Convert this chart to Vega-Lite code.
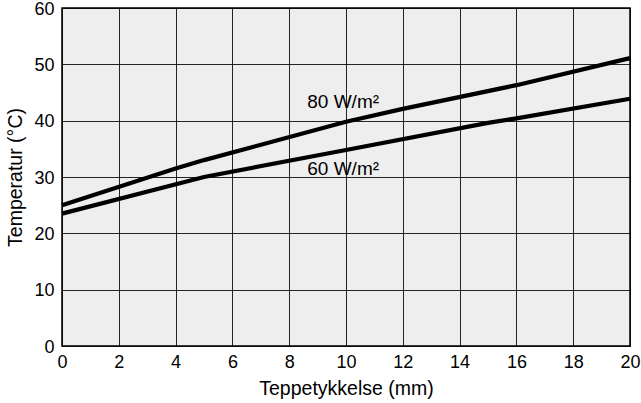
{
  "$schema": "https://vega.github.io/schema/vega-lite/v6.json",
  "width": 568,
  "height": 338,
  "autosize": "none",
  "padding": {"left": 62, "top": 8, "right": 11, "bottom": 57},
  "background": "white",
  "config": {
    "font": "Liberation Sans",
    "view": {"fill": "#eeeeee", "stroke": "black", "strokeWidth": 1.5},
    "axis": {
      "grid": true, "gridColor": "black", "gridOpacity": 0.85, "gridWidth": 1,
      "ticks": false, "domain": false, "labelFlush": false, "labelOverlap": false,
      "labelFont": "Liberation Sans", "labelFontSize": 18, "labelColor": "black",
      "titleFont": "Liberation Sans", "titleFontSize": 19.5, "titleFontWeight": "normal", "titleColor": "black"
    }
  },
  "datasets": {
    "lines": [
      {"x": 0, "y": 25.0, "s": "80"},
      {"x": 4, "y": 31.5, "s": "80"},
      {"x": 5, "y": 33.0, "s": "80"},
      {"x": 10, "y": 39.8, "s": "80"},
      {"x": 12, "y": 42.1, "s": "80"},
      {"x": 16, "y": 46.3, "s": "80"},
      {"x": 20, "y": 51.1, "s": "80"},
      {"x": 0, "y": 23.5, "s": "60"},
      {"x": 5, "y": 30.0, "s": "60"},
      {"x": 10, "y": 34.8, "s": "60"},
      {"x": 15, "y": 39.6, "s": "60"},
      {"x": 16, "y": 40.4, "s": "60"},
      {"x": 20, "y": 43.9, "s": "60"}
    ],
    "labels": [
      {"x": 9.9, "y": 43.4, "t": "80 W/m²"},
      {"x": 9.9, "y": 31.5, "t": "60 W/m²"}
    ]
  },
  "layer": [
    {
      "data": {"name": "lines"},
      "mark": {"type": "line", "color": "black", "strokeWidth": 4.2},
      "encoding": {
        "x": {"field": "x", "type": "quantitative", "scale": {"domain": [0, 20], "nice": false},
              "axis": {"values": [0,2,4,6,8,10,12,14,16,18,20], "title": "Teppetykkelse (mm)", "labelPadding": 7, "titlePadding": 8}},
        "y": {"field": "y", "type": "quantitative", "scale": {"domain": [0, 60], "nice": false},
              "axis": {"values": [0,10,20,30,40,50,60], "title": "Temperatur (°C)", "labelPadding": 8, "titlePadding": 8, "labelOffset": 1}},
        "detail": {"field": "s"}
      }
    },
    {
      "data": {"name": "labels"},
      "mark": {"type": "text", "fontSize": 19, "font": "Liberation Sans", "color": "black"},
      "encoding": {
        "x": {"field": "x", "type": "quantitative"},
        "y": {"field": "y", "type": "quantitative"},
        "text": {"field": "t"}
      }
    }
  ]
}
